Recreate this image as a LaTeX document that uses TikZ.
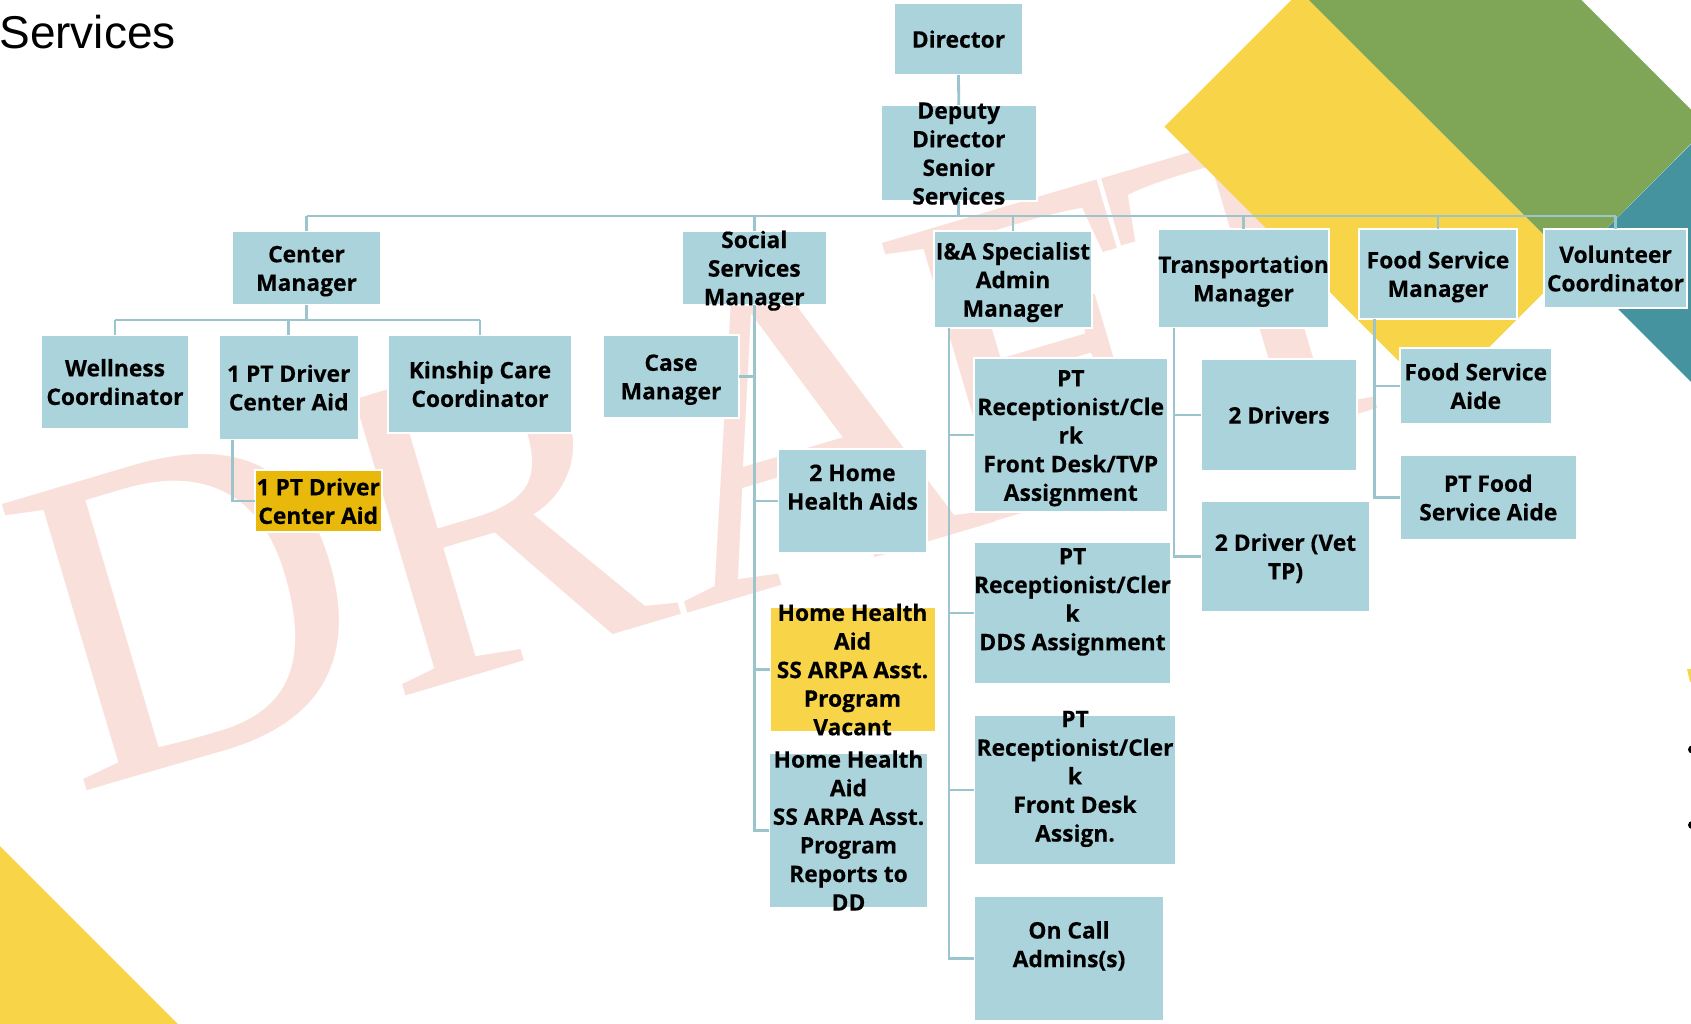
\documentclass[tikz,border=0pt]{standalone}
\usepackage{fontspec}
\setmainfont{Open Sans}[BoldFeatures={FakeBold=0.35}]
\newfontfamily\titlefont{Liberation Sans}
\newfontfamily\wmfont{Liberation Serif}
\usetikzlibrary{calc}

\definecolor{boxfill}{RGB}{170,211,219}
\definecolor{conn}{RGB}{155,196,204}
\definecolor{goldbox}{RGB}{232,185,11}
\definecolor{yel}{RGB}{248,212,72}
\definecolor{grn}{RGB}{127,166,86}
\definecolor{tealc}{RGB}{69,147,159}
\definecolor{pinkwm}{RGB}{249,224,218}

\tikzset{
  orgrect/.style={rectangle, draw=white, line width=1pt, inner sep=0pt, outer sep=0pt},
  boxtxt/.style={font=\bfseries\fontsize{11.4}{14.3}\selectfont, align=center, inner sep=0pt, text=black, yshift=-1.45pt},
  conline/.style={draw=conn, line width=1.4pt},
  wm/.style={anchor=base west, inner sep=0pt, rotate=16.5, text=pinkwm, font=\wmfont\fontsize{228}{230}\selectfont}
}

\newcommand{\orgbox}[6][boxfill]{%
  \node[orgrect, fill=#1, minimum width={0.5pt*(#5-#3)}, minimum height={0.5pt*(#6-#4)}] (#2) at ({(#3+#5)/2},{(#4+#6)/2}) {};}

\begin{document}
\begin{tikzpicture}[x=0.5pt,y=-0.5pt]
\useasboundingbox (0,0) rectangle (1691,1023);
\clip (0,0) rectangle (1691,1023);

% watermark
\node[wm] (wmD) at (74,795) {D};
\node[wm] (wmR) at (390.5,701) {R};
\node[wm] (wmA) at (683,615) {A};
\node[wm] (wmF) at (954,534) {F};
\node[wm] (wmT) at (1178,468) {T};

% background shapes
\fill[grn] (1300,-8.6) -- (1436.4,-145) -- (1707.8,126.5) -- (1572,263) -- cycle;
\fill[yel] (1300,-8.6) -- (1572.6,263.9) -- (1437,399.3) -- (1164.5,126.7) -- cycle;
\fill[tealc] (1572,263) -- (1800,35) -- (2100,335) -- (1872,563) -- cycle;
\fill[yel] (0,846) -- (178,1024) -- (0,1024) -- cycle;
\fill[yel] (1687,669) -- (1692,669) -- (1692,682) -- (1690,682) -- cycle;
\fill[black] (1692,749.5) circle (4);
\fill[black] (1692,825) circle (4);

% title
\node[anchor=base west, inner sep=0pt, font=\titlefont\fontsize{23}{27}\selectfont] (title) at (-1,48.3) {Services};

% boxes
\orgbox{dir}{894}{3}{1023}{75}
\orgbox{dep}{880.5}{105}{1037}{201}
\orgbox{cm}{232}{231}{381}{305}
\orgbox{ss}{681.5}{231}{827}{305}
\orgbox{ia}{934}{231}{1092}{328}
\orgbox{trans}{1158}{229}{1329}{328}
\orgbox{fsm}{1359}{229}{1517}{319}
\orgbox{vol}{1544}{229}{1687}{308}
\orgbox{well}{41}{335}{189}{429}
\orgbox{pt1}{219}{335}{358.5}{440}
\orgbox{kin}{388}{335}{572}{433}
\orgbox[goldbox]{gold}{254.5}{470}{382}{532}
\orgbox{case}{603}{335}{739}{418}
\orgbox{hha2}{778}{449}{927}{553}
\orgbox[yel]{hhav}{769.5}{607}{935.5}{732}
\orgbox{hhar}{769}{753}{928}{908}
\orgbox{rec1}{974}{358}{1167.5}{512}
\orgbox{rec2}{974}{542}{1171}{684}
\orgbox{rec3}{974}{715}{1176}{865}
\orgbox{oncall}{974}{896}{1164}{1021}
\orgbox{drv}{1201}{359}{1357}{471}
\orgbox{vet}{1201}{501}{1370}{612}
\orgbox{fsa}{1399.5}{348}{1552}{424}
\orgbox{ptf}{1399.5}{455}{1577}{540}

% connectors
\coordinate (bus) at (0,216);
\coordinate (cmbus) at (0,320);
\draw[conline] (dir.south) -- (dep.north);
\draw[conline] (dep.south) -- (dep.south |- bus);
\draw[conline] (cm.north |- bus) -- (vol.north |- bus);
\foreach \n in {cm,ss,ia,trans,fsm,vol} \draw[conline] (\n.north) -- (\n.north |- bus);
\draw[conline] (cm.south) -- (cm.south |- cmbus);
\draw[conline] (well.north |- cmbus) -- (kin.north |- cmbus);
\foreach \n in {well,pt1,kin} \draw[conline] (\n.north) -- (\n.north |- cmbus);
\coordinate (ptL) at ($(pt1.south west)+(13.4,0)$);
\draw[conline] (ptL) |- (gold.west);
\draw[conline] (ss.south) |- (hhar.west);
\foreach \n in {hha2,hhav} \draw[conline] (ss.south |- \n.west) -- (\n.west);
\draw[conline] (ss.south |- case.east) -- (case.east);
\coordinate (iaL) at ($(ia.south west)+(15,0)$);
\draw[conline] (iaL) |- (oncall.west);
\foreach \n in {rec1,rec2,rec3} \draw[conline] (iaL |- \n.west) -- (\n.west);
\coordinate (trL) at ($(trans.south west)+(16,0)$);
\draw[conline] (trL) |- (vet.west);
\draw[conline] (trL |- drv.west) -- (drv.west);
\coordinate (fsL) at ($(fsm.south west)+(15.3,0)$);
\draw[conline] (fsL) |- (ptf.west);
\draw[conline] (fsL |- fsa.west) -- (fsa.west);

% texts
\node[boxtxt] (dir-t) at (dir.center) {\strut Director};
\node[boxtxt] (dep-t) at (dep.center) {\strut Deputy\\\strut Director\\\strut Senior\\\strut Services};
\node[boxtxt] (cm-t) at (cm.center) {\strut Center\\\strut Manager};
\node[boxtxt] (ss-t) at (ss.center) {\strut Social\\\strut Services\\\strut Manager};
\node[boxtxt] (ia-t) at (ia.center) {\strut I\&A Specialist\\\strut Admin\\\strut Manager};
\node[boxtxt] (trans-t) at (trans.center) {\strut Transportation\\\strut Manager};
\node[boxtxt] (fsm-t) at (fsm.center) {\strut Food Service\\\strut Manager};
\node[boxtxt] (vol-t) at (vol.center) {\strut Volunteer\\\strut Coordinator};
\node[boxtxt] (well-t) at (well.center) {\strut Wellness\\\strut Coordinator};
\node[boxtxt] (pt1-t) at (pt1.center) {\strut 1 PT Driver\\\strut Center Aid};
\node[boxtxt] (kin-t) at (kin.center) {\strut Kinship Care\\\strut Coordinator};
\node[boxtxt] (gold-t) at (gold.center) {\strut 1 PT Driver\\\strut Center Aid};
\node[boxtxt] (case-t) at (case.center) {\strut Case\\\strut Manager};
\node[boxtxt] (hha2-t) at (hha2.center) {\strut 2 Home\\\strut Health Aids\\\strut};
\node[boxtxt] (hhav-t) at (hhav.center) {\strut Home Health\\\strut Aid\\\strut SS ARPA Asst.\\\strut Program\\\strut Vacant};
\node[boxtxt] (hhar-t) at (hhar.center) {\strut Home Health\\\strut Aid\\\strut SS ARPA Asst.\\\strut Program\\\strut Reports to\\\strut DD};
\node[boxtxt] (rec1-t) at (rec1.center) {\strut PT\\\strut Receptionist/Cle\\\strut rk\\\strut Front Desk/TVP\\\strut Assignment};
\node[boxtxt] (rec2-t) at (rec2.center) {\strut PT\\\strut Receptionist/Cler\\\strut k\\\strut DDS Assignment\\\strut};
\node[boxtxt] (rec3-t) at (rec3.center) {\strut PT\\\strut Receptionist/Cler\\\strut k\\\strut Front Desk\\\strut Assign.\\\strut};
\node[boxtxt] (oncall-t) at (oncall.center) {\strut On Call\\\strut Admins(s)\\\strut};
\node[boxtxt] (drv-t) at (drv.center) {\strut 2 Drivers};
\node[boxtxt] (vet-t) at (vet.center) {\strut 2 Driver (Vet\\\strut TP)};
\node[boxtxt] (fsa-t) at (fsa.center) {\strut Food Service\\\strut Aide};
\node[boxtxt] (ptf-t) at (ptf.center) {\strut PT Food\\\strut Service Aide};
\end{tikzpicture}
\end{document}
